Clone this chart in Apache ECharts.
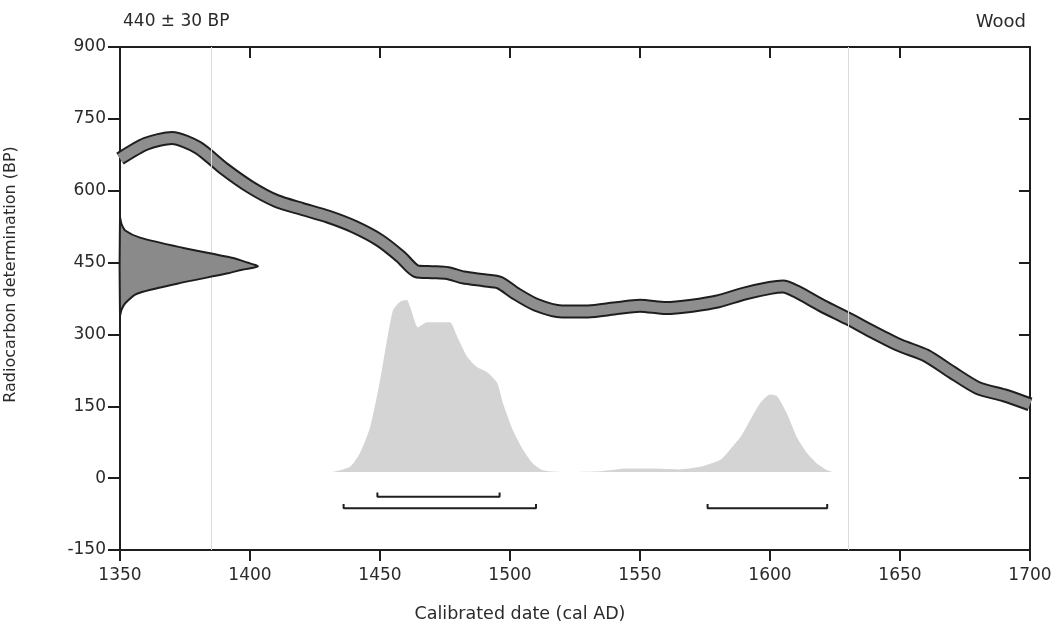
<!DOCTYPE html>
<html>
<head>
<meta charset="utf-8">
<script src="https://cdn.jsdelivr.net/npm/echarts@6/dist/echarts.min.js"></script>
<style>
  html, body { margin: 0; padding: 0; background: #fff; }
  #chart { width: 1056px; height: 623px; }
</style>
</head>
<body>
<div id="chart"></div>
<script>
// calibration curve (cal AD -> BP)
var curveYears = [1350, 1360, 1370, 1380, 1390, 1400, 1410, 1420, 1430, 1440, 1450, 1458, 1464, 1470, 1476, 1482, 1490, 1496, 1502, 1510, 1520, 1530, 1540, 1550, 1560, 1570, 1580, 1590, 1600, 1605, 1610, 1620, 1630, 1640, 1650, 1660, 1670, 1680, 1690, 1700];
var curveBP = [667, 698, 710, 690, 646, 608, 579, 562, 546, 525, 496, 462, 432, 430, 428, 419, 413, 408, 386, 362, 348, 348, 354, 360, 355, 360, 369, 385, 397, 400, 390, 360, 333, 304, 277, 256, 221, 188, 173, 154];

// radiocarbon determination 440 +- 30 BP, drawn on the y axis
var gaussBP = [544, 530, 517, 502, 481, 460, 450, 442, 435, 427, 406, 385, 365, 352, 340];
var gaussYear = [1350, 1350.6, 1352, 1357.7, 1374, 1393, 1399, 1403, 1397, 1391, 1372, 1356.5, 1352, 1350.6, 1350];

// calibrated probability (relative)
var probYears = [1432, 1438.5, 1442.3, 1446.2, 1450, 1452.5, 1455, 1457.7, 1460.3, 1462, 1464.6, 1468, 1471.9, 1476.9, 1479.6, 1483.5, 1487.3, 1491.2, 1495, 1497.3, 1501.2, 1505, 1508.8, 1512.7, 1520, 1535, 1545, 1555, 1565, 1573, 1580.8, 1584.6, 1588.5, 1592.3, 1596.2, 1600, 1602.7, 1606.5, 1610.4, 1614.2, 1618, 1622, 1624];
var probValues = [0, 0.03, 0.11, 0.26, 0.53, 0.75, 0.94, 0.99, 1.0, 0.94, 0.84, 0.87, 0.87, 0.87, 0.79, 0.67, 0.61, 0.58, 0.52, 0.40, 0.24, 0.13, 0.05, 0.01, 0, 0.005, 0.02, 0.02, 0.015, 0.03, 0.07, 0.13, 0.2, 0.30, 0.40, 0.45, 0.44, 0.34, 0.20, 0.11, 0.05, 0.01, 0];

// calibrated ranges [from, to]
var ranges1 = [[1449, 1496]];
var ranges2 = [[1436, 1510], [1576, 1622]];
var rangeLevel1 = -39;
var rangeLevel2 = -63;

var dark = '#1e1e1e';
var font = 'DejaVu Sans';

function bracket(r, level) {
  return [[r[0], level + 9], [r[0], level], [r[1], level], [r[1], level + 9]];
}
var rangeSeries = [];
ranges1.forEach(function (r) {
  rangeSeries.push({ type: 'line', data: bracket(r, rangeLevel1), symbol: 'none', lineStyle: { color: dark, width: 2 }, silent: true, z: 5 });
});
ranges2.forEach(function (r) {
  rangeSeries.push({ type: 'line', data: bracket(r, rangeLevel2), symbol: 'none', lineStyle: { color: dark, width: 2 }, silent: true, z: 5 });
});

var curveData = curveYears.map(function (y, i) { return [y, curveBP[i]]; });
var plain = function (v) { return String(v); };

var option = {
  animation: false,
  backgroundColor: '#fff',
  textStyle: { fontFamily: font },
  title: [
    { text: '440 ± 30 BP', left: 118, top: 8, textStyle: { fontFamily: font, fontSize: 17, fontWeight: 'normal', color: '#2a2a2a' } },
    { text: 'Wood', right: 25, top: 8, textStyle: { fontFamily: font, fontSize: 18, fontWeight: 'normal', color: '#2a2a2a' } }
  ],
  grid: { left: 120, right: 26, top: 47, bottom: 73, containLabel: false, outerBoundsMode: 'none' },
  xAxis: [
    {
      type: 'value', min: 1350, max: 1700, interval: 50, position: 'bottom',
      name: 'Calibrated date (cal AD)', nameLocation: 'middle', nameGap: 55,
      nameTextStyle: { fontFamily: font, fontSize: 17.5, color: '#2a2a2a', padding: [0, 110, 0, 0] },
      axisLine: { onZero: false, lineStyle: { color: dark, width: 2 } },
      axisTick: { length: 11, lineStyle: { color: dark, width: 2 } },
      axisLabel: { fontSize: 17, color: '#2a2a2a', margin: 17, formatter: plain },
      splitLine: { show: false }
    },
    {
      type: 'value', min: 1350, max: 1700, interval: 50, position: 'top',
      axisLine: { onZero: false, lineStyle: { color: dark, width: 2 } },
      axisTick: { inside: true, length: 11, lineStyle: { color: dark, width: 2 } },
      axisLabel: { show: false },
      splitLine: { show: false }
    }
  ],
  yAxis: [
    {
      type: 'value', min: -150, max: 900, interval: 150, position: 'left',
      name: 'Radiocarbon determination (BP)', nameLocation: 'middle', nameGap: 101,
      nameTextStyle: { fontFamily: font, fontSize: 16, color: '#2a2a2a', padding: [0, 0, 0, 48] },
      axisLine: { show: true, onZero: false, lineStyle: { color: dark, width: 2 } },
      axisTick: { show: true, length: 12, lineStyle: { color: dark, width: 2 } },
      axisLabel: { fontSize: 17, color: '#2a2a2a', margin: 14, formatter: plain },
      splitLine: { show: false }
    },
    {
      type: 'value', min: -150, max: 900, interval: 150, position: 'right',
      axisLine: { show: true, onZero: false, lineStyle: { color: dark, width: 2 } },
      axisTick: { show: true, inside: true, length: 11, lineStyle: { color: dark, width: 2 } },
      axisLabel: { show: false },
      splitLine: { show: false }
    },
    {
      type: 'value', min: -0.4535, max: 2.471, show: false, position: 'right'
    }
  ],
  series: [
    {
      type: 'line', yAxisIndex: 2, data: probYears.map(function (y, i) { return [y, probValues[i]]; }),
      symbol: 'none', smooth: 0.2, lineStyle: { width: 0 },
      areaStyle: { color: '#d4d4d4', origin: 'auto', opacity: 1 }, silent: true, z: 1,
      markLine: {
        silent: true, symbol: 'none', label: { show: false },
        lineStyle: { color: '#dcdcdc', width: 1, type: 'solid' },
        data: [{ xAxis: 1385 }, { xAxis: 1630 }]
      }
    },
    {
      type: 'line', data: curveData, symbol: 'none', smooth: 0.25,
      lineStyle: { color: dark, width: 14 }, silent: true, z: 3
    },
    {
      type: 'line', data: curveData, symbol: 'none', smooth: 0.25,
      lineStyle: { color: '#8e8e8e', width: 10 }, silent: true, z: 4
    },
    {
      type: 'custom', silent: true, z: 6,
      data: gaussYear.map(function (y, i) { return [y, gaussBP[i]]; }),
      renderItem: function (params, api) {
        if (params.dataIndex !== 0) return;
        var pts = gaussYear.map(function (y, i) { return api.coord([y, gaussBP[i]]); });
        return {
          type: 'polygon',
          shape: { points: pts, smooth: 0.25 },
          style: { fill: '#8a8a8a', stroke: dark, lineWidth: 2 }
        };
      }
    }
  ].concat(rangeSeries)
};

var myChart = echarts.init(document.getElementById('chart'));
myChart.setOption(option);
</script>
</body>
</html>
